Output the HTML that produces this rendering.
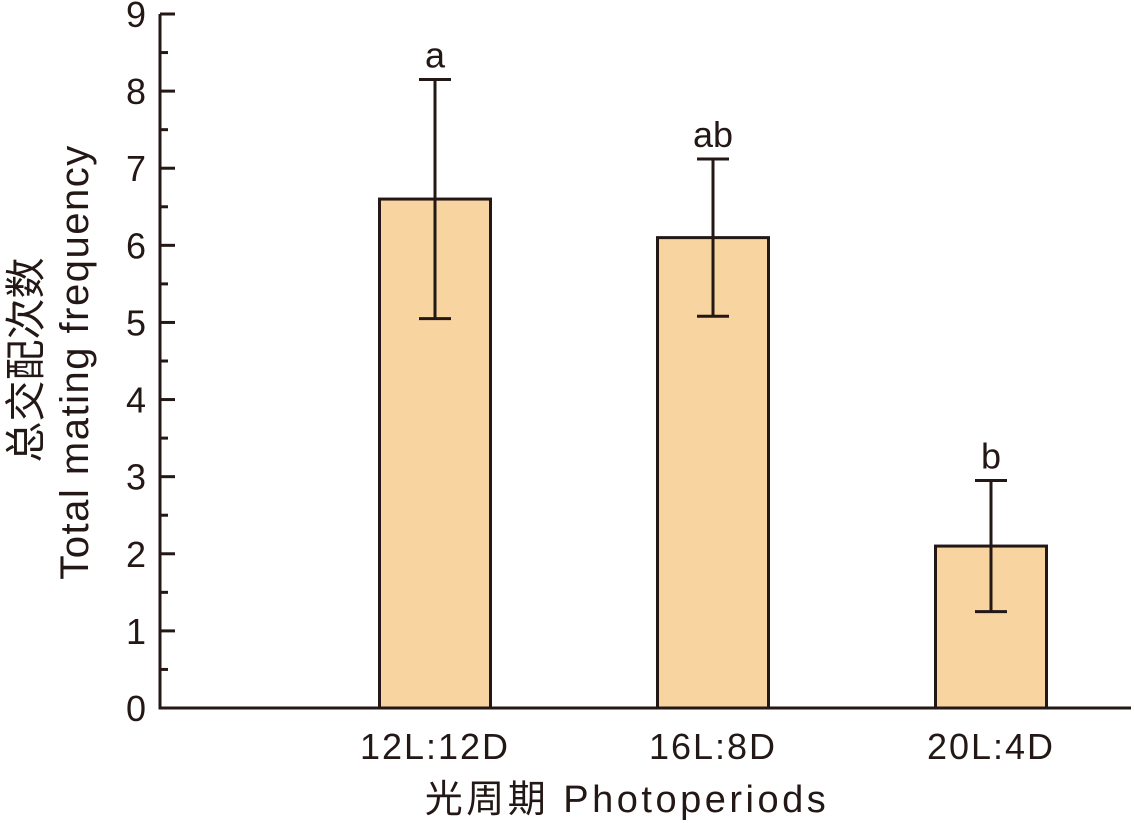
<!DOCTYPE html>
<html><head><meta charset="utf-8"><style>
body{margin:0;background:#fff}
svg{display:block}
text{font-family:"Liberation Sans","Noto Sans CJK SC",sans-serif;fill:#231815}
</style></head><body>
<svg id="chart" width="1134" height="823"></svg>
<script>
const categories = ["12L:12D","16L:8D","20L:4D"];
const values = [6.6, 6.1, 2.1];
const errLow = [5.05, 5.08, 1.25];
const errHigh = [8.15, 7.12, 2.95];
const letters = ["a","ab","b"];
const yTicks = [0,1,2,3,4,5,6,7,8,9];

const svg = document.getElementById('chart');
const NS = 'http://www.w3.org/2000/svg';
const x0 = 160, y0 = 708, yTop = 14, yMax = 9;
const y = v => y0 - v * (y0 - yTop) / yMax;
const xc = i => 435 + i * 278;
const bw = 111;
function el(tag, attrs){const e=document.createElementNS(NS,tag);for(const k in attrs)e.setAttribute(k,attrs[k]);svg.appendChild(e);return e;}
const stroke = '#231815';

categories.forEach((c,i)=>{
  const b = el('rect',{x:xc(i)-bw/2,y:y(values[i]),width:bw,height:y0-y(values[i]),fill:'#f8d4a0',stroke:stroke,'stroke-width':3});
  
  
  const g = el('path',{d:`M${xc(i)} ${y(errLow[i])}V${y(errHigh[i])}M${xc(i)-16} ${y(errLow[i])}h32M${xc(i)-16} ${y(errHigh[i])}h32`,stroke:stroke,'stroke-width':3,fill:'none'});
  
  
  const l = el('text',{x:xc(i),y:y(errHigh[i])-12,'text-anchor':'middle','font-size':36});
  l.textContent = letters[i];
  
  
  const t = el('text',{x:xc(i),y:759,'text-anchor':'middle','font-size':36,'letter-spacing':'2'});
  t.textContent = c;
  
  
});

const ax = el('path',{d:`M${x0} ${yTop}V${y0}H1131`,stroke:stroke,'stroke-width':3,fill:'none'});


yTicks.forEach(v=>{
  const t = el('path',{d:`M${x0} ${y(v)}h15`,stroke:stroke,'stroke-width':3});
  
  
  if(v<yMax){
    const m = el('path',{d:`M${x0} ${y(v+0.5)}h8`,stroke:stroke,'stroke-width':3});
    
    
  }
  const lb = el('text',{x:146,y:y(v)+13,'text-anchor':'end','font-size':36});
  lb.textContent = v;
  
  
});

const xt = el('text',{x:627,y:812,'text-anchor':'middle','font-size':38,'letter-spacing':'3.5'});
xt.textContent = '光周期 Photoperiods';


const yt1 = el('text',{x:0,y:0,'text-anchor':'middle','font-size':41,transform:'translate(40,360) rotate(-90)'});
yt1.textContent = '总交配次数';


const yt2 = el('text',{x:0,y:0,'text-anchor':'middle','font-size':40,'letter-spacing':'1.5',transform:'translate(88,362) rotate(-90)'});
yt2.textContent = 'Total mating frequency';


</script>
</body></html>
